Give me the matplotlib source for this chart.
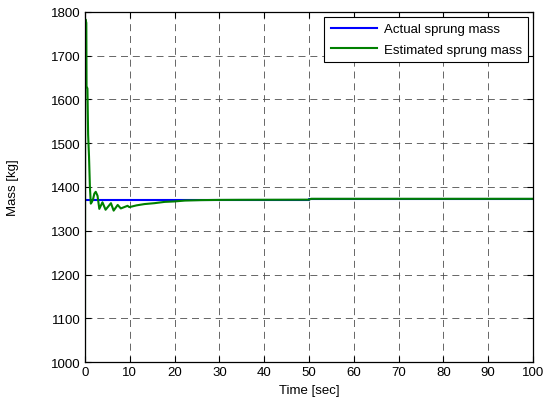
import matplotlib
matplotlib.use("Agg")
import matplotlib.pyplot as plt
import numpy as np

plt.rcParams['font.family'] = ['Liberation Sans', 'DejaVu Sans']

# Actual sprung mass (step-wise)
actual_t = [0, 50, 50, 100]
actual_m = [1370.5, 1370.5, 1372.5, 1372.5]

# Estimated sprung mass
est_t = [0, 0.05, 0.15, 0.3, 0.35, 0.55, 0.7, 0.9, 1.1, 1.3, 1.5, 1.8, 2.1, 2.4, 2.8,
         3.2, 3.9, 4.6, 5.8, 6.4, 7.3, 8.0, 9.5, 9.9, 11.5, 13.3, 15.5, 17.8, 20,
         22.3, 26, 30, 35, 50, 50.5, 100]
est_m = [1000, 1784, 1782, 1775, 1630, 1625, 1520, 1470, 1400, 1362, 1365, 1372, 1385,
         1389, 1380, 1350, 1365, 1348, 1363, 1346, 1359, 1351, 1357, 1354, 1358, 1361,
         1363, 1366, 1367, 1369, 1370, 1370.5, 1370.7, 1371, 1373, 1373]

fig = plt.figure(figsize=(5.43, 4.02), dpi=100)
ax = fig.add_axes([0.1565, 0.097, 0.825, 0.8707])

ax.plot(actual_t, actual_m, color='#0000ff', lw=1.5, label='Actual sprung mass')
ax.plot(est_t, est_m, color='#008000', lw=1.5, label='Estimated sprung mass')

ax.set_xlim(0, 100)
ax.set_ylim(1000, 1800)
ax.set_xticks(np.arange(0, 101, 10))
ax.set_yticks(np.arange(1000, 1801, 100))
ax.grid(True, color='0.3', linestyle=(0, (8.4, 5.8)), lw=0.6)
ax.tick_params(direction='in', top=True, right=True, labelsize=9.5, length=4,
               width=0.8, pad=3)
for s in ax.spines.values():
    s.set_linewidth(0.9)

ax.set_xlabel('Time [sec]', fontsize=9.5, labelpad=4)
ax.set_ylabel('Mass [kg]', fontsize=9.5, labelpad=23)

leg = ax.legend(loc='upper right', fontsize=9.5, fancybox=False, edgecolor='black',
                framealpha=1, handlelength=3.5, borderaxespad=0.35, labelspacing=0.6,
                borderpad=0.5, handletextpad=0.5)
leg.get_frame().set_linewidth(0.8)

fig.savefig('out.png', dpi=100)
